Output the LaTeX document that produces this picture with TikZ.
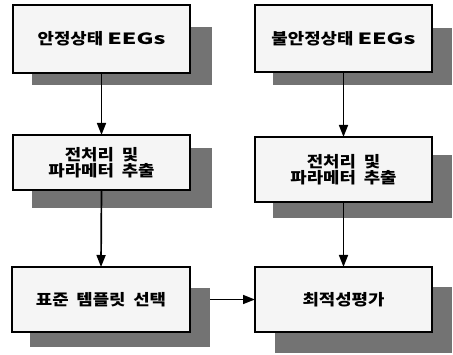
\documentclass[tikz,border=0pt]{standalone}
\usepackage{fontspec}
\setmainfont{Noto Sans CJK KR}[FakeStretch=1.15]
\usetikzlibrary{arrows.meta}
\begin{document}
\begin{tikzpicture}[x=1pt,y=-1pt,
  stepbox/.style={draw=black, line width=1.8pt, fill=black!4, inner sep=0pt, outer sep=0pt,
    font=\fontsize{15.5}{16.5}\selectfont\bfseries, align=center},
  shadowbox/.style={fill=black!55, draw=none, inner sep=0pt, outer sep=0pt},
  conn/.style={line width=1.7pt, -{Triangle[length=12pt,width=9pt]}}]
\useasboundingbox (0,0) rectangle (453,355);
% shadows
\node[shadowbox, minimum width=180pt, minimum height=58pt] (s1) at (122,56) {};
\node[shadowbox, minimum width=179pt, minimum height=57pt] (s2) at (362.5,56.5) {};
\node[shadowbox, minimum width=180pt, minimum height=60pt] (s3) at (122,178) {};
\node[shadowbox, minimum width=179pt, minimum height=63pt] (s4) at (362.5,186.5) {};
\node[shadowbox, minimum width=180pt, minimum height=59pt] (s5) at (120,317.5) {};
\node[shadowbox, minimum width=177pt, minimum height=66pt] (s6) at (363.5,320) {};
% boxes
\node[stepbox, minimum width=177pt, minimum height=68pt] (a1) at (101.5,39) {안정상태 \scalebox{1.3}[1]{EEGs}};
\node[stepbox, minimum width=177pt, minimum height=67pt] (b1) at (343.5,38.5) {불안정상태 \scalebox{1.3}[1]{EEGs}};
\node[stepbox, minimum width=177pt, minimum height=55pt] (a2) at (101.5,162.5) {전처리\hspace{0.5em}및\\파라메터\hspace{0.5em}추출};
\node[stepbox, minimum width=177pt, minimum height=65pt] (b2) at (343.5,169.5) {전처리\hspace{0.5em}및\\파라메터\hspace{0.5em}추출};
\node[stepbox, minimum width=178pt, minimum height=65pt] (a3) at (101,299.5) {표준\hspace{0.5em}템플릿\hspace{0.5em}선택};
\node[stepbox, minimum width=177pt, minimum height=65pt] (b3) at (343.5,299.5) {최적성평가};
% connectors
\draw[conn] (a1.south) -- (a2.north);
\draw[conn] (b1.south) -- (b2.north);
\draw[conn] (a2.south) -- (a3.north);
\draw[conn] (b2.south) -- (b3.north);
\draw[conn] (s5.east |- b3.west) -- (b3.west);
\end{tikzpicture}
\end{document}
